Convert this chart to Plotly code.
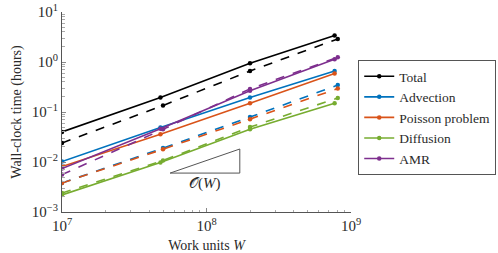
import math
import plotly.graph_objects as go

# Data
names = ["Total", "Advection", "Poisson problem", "Diffusion", "AMR"]
colors = ["#000000", "#0072BD", "#D95319", "#77AC30", "#7E2F8E"]

work_solid = [1.0e7, 4.8e7, 2.0e8, 7.7e8]
work_dashed = [1.0e7, 5.0e7, 2.0e8, 8.1e8]

total_solid = [0.040, 0.195, 0.94, 3.4]
total_dashed = [0.024, 0.135, 0.66, 2.9]
adv_solid = [0.0102, 0.049, 0.195, 0.66]
adv_dashed = [0.0038, 0.019, 0.079, 0.345]
poi_solid = [0.0081, 0.036, 0.15, 0.59]
poi_dashed = [0.0038, 0.018, 0.072, 0.295]
dif_solid = [0.0022, 0.0098, 0.045, 0.15]
dif_dashed = [0.0024, 0.0107, 0.050, 0.19]
amr_solid = [0.0074, 0.046, 0.265, 1.13]
amr_dashed = [0.0056, 0.045, 0.29, 1.24]

solid_series = [total_solid, adv_solid, poi_solid, dif_solid, amr_solid]
dashed_series = [total_dashed, adv_dashed, poi_dashed, dif_dashed, amr_dashed]

# slope-1 reference triangle (data coordinates)
tri_x = [5.6e7, 1.7e8, 1.7e8, 5.6e7]
tri_y = [0.0060, 0.0060, 0.0182, 0.0060]
tri_label = "𝒪(<i>W</i>)"
tri_label_pos = (9.7e7, 0.0037)

x_tickvals = [1e7, 1e8, 1e9]
x_ticktext = ["10<sup>7</sup>", "10<sup>8</sup>", "10<sup>9</sup>"]
y_tickvals = [1e-3, 1e-2, 1e-1, 1e0, 1e1]
y_ticktext = ["10<sup>−3</sup>", "10<sup>−2</sup>", "10<sup>−1</sup>", "10<sup>0</sup>", "10<sup>1</sup>"]

FONT = "Liberation Serif"
TXT = "#2a2a2a"

fig = go.Figure()
for name, col, ys in zip(names, colors, solid_series):
    fig.add_trace(go.Scatter(x=work_solid, y=ys, mode="lines+markers", name=name,
                             line=dict(color=col, width=1.6),
                             marker=dict(color=col, size=4.5)))
for name, col, ys in zip(names, colors, dashed_series):
    fig.add_trace(go.Scatter(x=work_dashed, y=ys, mode="lines+markers", name=name,
                             showlegend=False,
                             line=dict(color=col, width=1.6, dash="dash"),
                             marker=dict(color=col, size=4.5)))

fig.add_trace(go.Scatter(x=tri_x, y=tri_y, mode="lines", showlegend=False,
                         line=dict(color="#555555", width=1), hoverinfo="skip"))
fig.add_annotation(x=math.log10(tri_label_pos[0]), y=math.log10(tri_label_pos[1]),
                   text=tri_label, showarrow=False,
                   font=dict(family=FONT, size=15, color=TXT))

axis_common = dict(type="log", showgrid=False, zeroline=False, showline=True,
                   linecolor="#555555", linewidth=1, ticks="inside", ticklen=4,
                   tickcolor="#888888", mirror=False, automargin=False,
                   tickfont=dict(family=FONT, size=15, color=TXT),
                   minor=dict(ticks="inside", ticklen=2.5, tickcolor="#aaaaaa",
                              showgrid=False, dtick="D1"))

fig.update_xaxes(**axis_common, range=[7, 9], tickvals=x_tickvals, ticktext=x_ticktext,
                 title=dict(text="Work units <i>W</i>", font=dict(family=FONT, size=14, color=TXT),
                            standoff=8))
fig.update_yaxes(**axis_common, range=[-3, 1], tickvals=y_tickvals, ticktext=y_ticktext,
                 title=dict(text="Wall-clock time (hours)", font=dict(family=FONT, size=14, color=TXT),
                            standoff=6))

fig.update_layout(
    width=498, height=253,
    margin=dict(l=62, r=147, t=12, b=41, autoexpand=False),
    plot_bgcolor="white", paper_bgcolor="white",
    font=dict(family=FONT, size=14, color=TXT),
    legend=dict(x=1.025, y=0.76, xanchor="left", yanchor="top",
                bordercolor="#555555", borderwidth=1, bgcolor="white",
                font=dict(family=FONT, size=13.5, color=TXT),
                itemwidth=30, tracegroupgap=0),
    showlegend=True,
)

fig.write_html("out.html", config={"displayModeBar": False},
               post_script="document.body.style.margin='0';document.body.style.overflow='hidden';")
